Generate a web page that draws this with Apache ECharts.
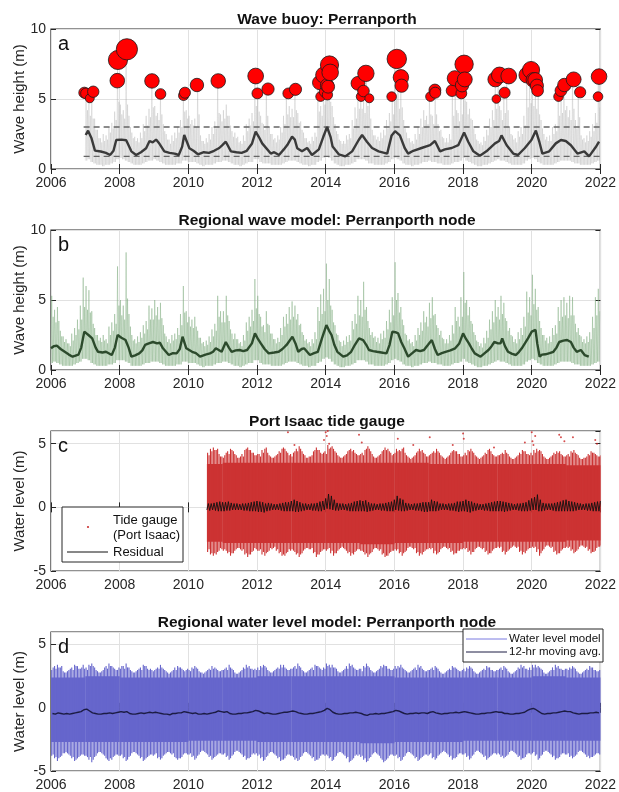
<!DOCTYPE html>
<html><head><meta charset="utf-8">
<script src="https://cdn.jsdelivr.net/npm/echarts/dist/echarts.min.js"></script>
<style>html,body{margin:0;padding:0;background:#fff}#c{width:619px;height:792px}</style>
</head><body><div id="c"></div>
<script>
// ---------------- DATA ----------------
const xTicks = [2006, 2008, 2010, 2012, 2014, 2016, 2018, 2020, 2022];
const panelTitles = ['Wave buoy: Perranporth', 'Regional wave model: Perranporth node', 'Port Isaac tide gauge', 'Regional water level model: Perranporth node'];
const panelLetters = ['a', 'b', 'c', 'd'];
const yNames = ['Wave height (m)', 'Wave height (m)', 'Water level (m)', 'Water level (m)'];

// Panel a: buoy (monthly envelope, Jan 2007 - Dec 2021; two peaks per month)
const buoyStart = 2007.0;
const buoyMax = [
5.5,5.1,5.5,3.6,2.8,2.2,2.5,2.4,3.0,3.3,4.1,7.8,
4.6,4.2,8.6,3.8,2.6,2.3,2.2,2.6,3.2,3.8,4.3,6.3,
4.5,4.0,5.4,3.2,2.5,2.1,2.4,2.6,3.0,3.5,5.5,4.2,
3.8,3.5,3.6,6.0,2.4,2.0,2.2,2.5,3.0,3.4,6.3,3.9,
4.2,4.6,3.8,2.7,2.6,2.3,2.0,2.4,3.2,3.6,4.0,6.6,
5.4,3.8,3.2,5.7,3.0,2.5,2.2,2.4,3.0,3.8,5.4,4.5,
4.3,5.7,4.0,3.4,2.6,2.2,2.0,2.3,2.6,6.2,4.5,6.7,
7.5,6.9,4.5,3.2,2.5,2.0,2.0,2.4,2.5,3.5,4.4,6.1,
5.6,5.2,6.8,5.0,2.8,2.4,2.3,2.6,2.8,3.5,4.0,5.2,
7.9,5.8,6.6,3.5,2.6,2.2,2.0,2.5,3.0,3.6,4.2,3.8,
5.2,3.8,5.6,3.2,2.8,2.2,2.2,2.5,5.6,6.5,4.0,5.4,
7.5,4.8,4.3,3.5,2.5,2.0,1.9,2.3,2.8,3.6,4.2,6.4,
6.7,4.2,5.5,6.6,3.0,2.4,2.2,2.7,3.0,3.8,6.7,7.1,
6.4,6.0,5.6,3.5,2.5,2.3,2.4,3.0,3.2,5.2,5.6,6.0,
4.5,4.2,6.4,3.5,5.5,2.4,2.2,2.4,2.7,3.2,4.0,6.6];
const buoyMax2 = [
4.2,3.8,3.6,2.8,2.2,1.9,2.0,2.1,2.6,2.9,3.5,4.8,
3.9,3.6,4.6,3.0,2.2,2.0,1.9,2.2,2.7,3.1,3.7,4.4,
3.8,3.5,3.9,2.7,2.1,1.8,2.0,2.2,2.6,3.0,4.1,3.6,
3.2,3.1,3.0,3.9,2.0,1.8,1.9,2.1,2.5,2.9,4.0,3.4,
3.6,3.8,3.1,2.3,2.2,1.9,1.8,2.0,2.7,3.1,3.4,4.5,
4.1,3.3,2.8,3.8,2.5,2.1,1.9,2.1,2.6,3.2,3.9,3.7,
3.7,4.2,3.3,2.8,2.2,1.9,1.8,2.0,2.3,4.1,3.8,4.6,
5.2,4.8,3.7,2.7,2.1,1.8,1.8,2.1,2.2,2.9,3.6,4.3,
4.3,4.0,4.5,3.6,2.4,2.1,2.0,2.2,2.4,2.9,3.4,3.9,
5.1,4.3,4.4,2.9,2.2,1.9,1.8,2.1,2.5,3.0,3.5,3.2,
3.9,3.2,3.9,2.7,2.3,1.9,1.9,2.1,3.8,4.2,3.4,3.9,
4.9,3.9,3.6,2.9,2.1,1.8,1.7,2.0,2.4,3.0,3.5,4.3,
4.5,3.5,4.0,4.2,2.5,2.1,1.9,2.3,2.5,3.1,4.4,4.7,
4.5,4.3,3.9,2.9,2.1,2.0,2.0,2.5,2.7,3.8,4.0,4.2,
3.7,3.5,4.3,2.9,3.7,2.1,1.9,2.0,2.3,2.7,3.3,4.4];
const buoyMin = [
0.6,0.7,0.5,0.4,0.3,0.3,0.2,0.3,0.3,0.4,0.5,0.7,
0.8,0.7,0.6,0.5,0.4,0.3,0.3,0.3,0.4,0.5,0.6,0.6,
0.7,0.6,0.5,0.4,0.3,0.3,0.3,0.3,0.4,0.4,0.6,0.6,
0.5,0.5,0.5,0.4,0.3,0.2,0.3,0.3,0.3,0.4,0.5,0.5,
0.6,0.6,0.5,0.4,0.3,0.3,0.2,0.3,0.4,0.5,0.5,0.7,
0.7,0.5,0.4,0.4,0.4,0.3,0.3,0.3,0.3,0.4,0.5,0.6,
0.6,0.6,0.5,0.4,0.3,0.3,0.2,0.3,0.3,0.5,0.6,0.8,
0.9,0.8,0.6,0.4,0.3,0.2,0.2,0.3,0.3,0.4,0.5,0.7,
0.7,0.7,0.6,0.4,0.4,0.3,0.3,0.3,0.3,0.4,0.5,0.7,
0.8,0.7,0.6,0.4,0.3,0.3,0.2,0.3,0.3,0.4,0.5,0.5,
0.6,0.5,0.5,0.4,0.4,0.3,0.3,0.3,0.4,0.5,0.5,0.6,
0.8,0.6,0.5,0.4,0.3,0.2,0.2,0.3,0.3,0.4,0.5,0.6,
0.7,0.6,0.6,0.5,0.4,0.3,0.3,0.3,0.3,0.4,0.6,0.7,
0.8,0.7,0.5,0.4,0.3,0.3,0.3,0.3,0.4,0.5,0.6,0.6,
0.6,0.6,0.5,0.4,0.4,0.3,0.3,0.3,0.3,0.4,0.5,0.6];
const buoyMaTime = [2007.01,2007.08,2007.18,2007.28,2007.45,2007.6,2007.72,2007.82,2007.9,2008.05,2008.19,2008.34,2008.48,2008.62,2008.77,2008.87,2008.96,2009.06,2009.16,2009.3,2009.45,2009.6,2009.72,2009.82,2009.88,2010.03,2010.15,2010.28,2010.45,2010.6,2010.75,2010.9,2010.99,2011.09,2011.24,2011.4,2011.55,2011.7,2011.85,2011.96,2012.05,2012.15,2012.4,2012.5,2012.64,2012.78,2012.88,2013.02,2013.1,2013.17,2013.31,2013.46,2013.6,2013.8,2013.93,2014.04,2014.14,2014.2,2014.38,2014.57,2014.77,2014.96,2015.06,2015.2,2015.35,2015.54,2015.79,2015.92,2016.02,2016.16,2016.3,2016.4,2016.55,2016.79,2017.04,2017.18,2017.33,2017.47,2017.67,2017.86,2018.03,2018.15,2018.3,2018.49,2018.68,2018.93,2019.05,2019.12,2019.27,2019.46,2019.6,2019.8,2019.99,2020.12,2020.22,2020.31,2020.51,2020.7,2020.85,2020.99,2021.14,2021.33,2021.53,2021.67,2021.86,2021.96];
const buoyMaValue = [2.43,2.74,2.19,1.31,1.25,1.15,1.0,1.3,2.07,2.1,2.05,1.26,1.0,1.2,1.48,2.0,1.9,2.1,1.8,1.26,1.15,1.1,1.0,1.6,2.43,1.48,1.3,1.05,1.2,1.15,1.3,1.5,1.71,1.95,1.26,1.2,1.15,1.3,1.8,2.67,2.3,1.83,1.1,1.2,1.0,1.4,1.71,2.31,2.1,1.48,1.26,1.5,1.0,1.4,2.3,3.0,2.3,1.6,1.05,0.9,1.26,2.07,2.43,1.95,1.5,1.26,1.1,2.4,2.7,2.4,1.5,1.1,1.3,1.5,1.7,2.0,1.26,1.4,1.5,1.7,2.6,1.95,1.26,0.95,1.26,1.83,2.0,2.4,1.7,1.1,1.0,1.5,2.07,2.74,1.95,1.1,1.26,1.83,2.07,2.0,1.7,1.1,1.26,0.9,1.55,1.95];
const thresholds = [3.0, 0.9];
const thresholdSpan = [2006.95, 2022];
const stormTime = [2006.97,2007.02,2007.13,2007.23,2007.93,2007.95,2008.21,2008.94,2009.19,2009.86,2009.9,2010.25,2010.87,2011.96,2012.01,2012.32,2012.91,2013.12,2013.82,2013.85,2013.94,2013.98,2014.04,2014.05,2014.07,2014.11,2014.13,2014.94,2015.03,2015.1,2015.17,2015.27,2015.92,2016.07,2016.19,2016.21,2017.05,2017.18,2017.19,2017.68,2017.76,2017.95,2017.97,2018.03,2018.05,2018.94,2018.97,2019.06,2019.21,2019.33,2019.86,2019.98,2020.05,2020.1,2020.15,2020.17,2020.78,2020.85,2020.95,2021.22,2021.41,2021.93,2021.96];
const stormHeight = [5.45,5.4,5.05,5.52,6.31,7.79,8.55,6.29,5.36,5.25,5.45,6.0,6.29,6.64,5.4,5.71,5.4,5.69,6.17,5.17,6.71,5.52,5.98,5.3,5.88,7.43,6.9,6.12,5.17,5.57,6.83,5.05,5.17,7.86,6.55,5.95,5.17,5.64,5.45,5.6,6.48,5.4,5.98,7.48,6.4,6.4,5.0,6.71,5.45,6.64,6.71,7.07,6.36,6.36,5.95,5.6,5.17,5.6,6.0,6.4,5.48,5.17,6.6];

// Panel b: wave model (monthly envelope, Jan 2006 - Dec 2021; two peaks per month)
const waveStart = 2006.0;
const waveMax = [
5.3,4.3,4.5,2.8,2.4,2.2,1.9,2.6,3.0,3.6,4.6,6.6,
6.0,5.7,4.2,3.0,2.5,2.3,2.5,2.2,3.1,3.4,4.0,7.4,
5.0,4.6,8.4,4.0,2.5,2.2,2.4,2.7,3.2,3.5,4.6,4.4,
5.0,4.5,4.8,3.2,2.4,2.2,2.5,2.6,3.0,4.0,6.0,4.2,
3.8,3.6,3.8,2.8,2.3,2.0,2.1,2.4,2.9,3.3,5.3,4.2,
4.2,5.3,3.5,2.6,2.6,2.2,2.0,2.5,3.4,3.8,4.3,6.5,
5.3,3.8,3.2,4.2,3.2,2.6,2.2,2.3,3.0,3.8,4.0,4.5,
4.9,4.6,4.0,3.3,2.5,2.2,2.0,2.2,2.7,4.5,5.4,5.8,
7.6,6.5,4.3,3.2,2.5,2.0,2.1,2.4,2.5,3.5,4.0,5.3,
5.0,6.3,4.5,3.0,2.7,2.4,2.3,2.6,2.8,3.5,4.3,5.2,
7.7,5.5,4.5,3.2,2.5,2.2,2.0,2.5,3.0,3.4,4.2,3.8,
4.8,5.2,4.0,3.0,2.8,2.2,2.2,2.5,3.2,4.5,3.8,5.2,
7.0,5.0,4.5,3.3,2.5,2.0,1.9,2.3,2.8,3.6,4.2,5.0,
4.5,5.3,4.8,3.5,3.0,2.4,2.2,2.7,3.0,3.8,5.6,5.2,
6.8,5.8,4.5,3.0,2.5,2.3,2.4,3.0,3.2,4.5,5.0,5.2,
4.8,5.3,5.2,3.3,3.0,2.4,2.2,2.4,2.7,3.8,5.2,5.8];
const waveMax2 = [
3.8,3.4,3.5,2.4,2.0,1.9,1.7,2.1,2.5,2.9,3.6,4.5,
4.3,4.1,3.3,2.5,2.1,2.0,2.1,1.9,2.5,2.8,3.3,4.6,
3.9,3.6,5.1,3.1,2.1,1.9,2.0,2.3,2.6,2.9,3.6,3.6,
3.9,3.6,3.7,2.6,2.0,1.9,2.1,2.2,2.5,3.2,4.1,3.4,
3.1,3.0,3.1,2.3,1.9,1.7,1.8,2.0,2.4,2.8,3.8,3.4,
3.4,3.9,2.9,2.2,2.2,1.9,1.7,2.1,2.8,3.1,3.5,4.4,
4.0,3.1,2.7,3.3,2.6,2.2,1.9,2.0,2.5,3.1,3.3,3.6,
3.8,3.6,3.2,2.7,2.1,1.9,1.7,1.9,2.2,3.5,4.0,4.2,
5.0,4.6,3.4,2.6,2.1,1.7,1.8,2.0,2.1,2.9,3.3,3.9,
3.8,4.3,3.5,2.5,2.3,2.0,1.9,2.2,2.3,2.9,3.4,3.9,
5.0,4.1,3.6,2.6,2.1,1.9,1.7,2.1,2.5,2.8,3.4,3.1,
3.7,3.9,3.2,2.5,2.3,1.9,1.9,2.1,2.6,3.5,3.1,3.8,
4.8,3.9,3.5,2.7,2.1,1.7,1.6,1.9,2.3,2.9,3.4,3.8,
3.6,4.0,3.7,2.8,2.5,2.0,1.9,2.2,2.5,3.1,4.1,3.9,
4.7,4.3,3.5,2.5,2.1,1.9,2.0,2.5,2.6,3.5,3.8,3.9,
3.7,3.9,3.9,2.7,2.5,2.0,1.9,2.0,2.2,3.0,3.9,4.2];
const waveMin = [
0.5,0.6,0.5,0.4,0.3,0.3,0.3,0.3,0.4,0.5,0.6,0.8,
0.8,0.7,0.5,0.4,0.3,0.3,0.3,0.3,0.4,0.4,0.5,0.7,
0.7,0.7,0.6,0.5,0.3,0.3,0.3,0.3,0.4,0.5,0.5,0.6,
0.6,0.6,0.5,0.4,0.3,0.3,0.3,0.3,0.4,0.4,0.6,0.6,
0.5,0.5,0.5,0.4,0.3,0.2,0.3,0.3,0.3,0.4,0.5,0.5,
0.6,0.6,0.5,0.4,0.3,0.3,0.2,0.3,0.4,0.5,0.5,0.7,
0.7,0.5,0.4,0.4,0.4,0.3,0.3,0.3,0.3,0.4,0.5,0.6,
0.6,0.6,0.5,0.4,0.3,0.3,0.2,0.3,0.3,0.5,0.6,0.8,
0.9,0.8,0.6,0.4,0.3,0.2,0.2,0.3,0.3,0.4,0.5,0.7,
0.7,0.7,0.6,0.4,0.4,0.3,0.3,0.3,0.3,0.4,0.5,0.7,
0.8,0.7,0.6,0.4,0.3,0.3,0.2,0.3,0.3,0.4,0.5,0.5,
0.6,0.5,0.5,0.4,0.4,0.3,0.3,0.3,0.4,0.5,0.5,0.6,
0.8,0.6,0.5,0.4,0.3,0.2,0.2,0.3,0.3,0.4,0.5,0.6,
0.7,0.6,0.6,0.5,0.4,0.3,0.3,0.3,0.3,0.4,0.6,0.7,
0.8,0.7,0.5,0.4,0.3,0.3,0.3,0.3,0.4,0.5,0.6,0.6,
0.6,0.6,0.5,0.4,0.4,0.3,0.3,0.3,0.3,0.4,0.5,0.6];
const waveMaTime = [2006.0,2006.08,2006.17,2006.28,2006.4,2006.52,2006.63,2006.8,2006.88,2006.97,2007.09,2007.2,2007.3,2007.37,2007.5,2007.6,2007.77,2007.86,2007.94,2008.05,2008.17,2008.26,2008.34,2008.45,2008.57,2008.66,2008.74,2008.85,2008.97,2009.09,2009.17,2009.26,2009.43,2009.55,2009.66,2009.75,2009.83,2009.94,2010.11,2010.22,2010.34,2010.5,2010.63,2010.72,2010.8,2010.97,2011.09,2011.18,2011.26,2011.38,2011.49,2011.6,2011.71,2011.85,2011.94,2012.03,2012.11,2012.22,2012.34,2012.5,2012.63,2012.74,2012.86,2013.03,2013.12,2013.2,2013.3,2013.37,2013.54,2013.66,2013.77,2013.89,2014.02,2014.1,2014.17,2014.25,2014.34,2014.51,2014.62,2014.74,2014.85,2014.97,2015.09,2015.18,2015.26,2015.38,2015.49,2015.62,2015.77,2015.86,2015.94,2016.03,2016.11,2016.2,2016.29,2016.4,2016.52,2016.63,2016.75,2016.86,2016.98,2017.09,2017.18,2017.26,2017.38,2017.49,2017.63,2017.77,2017.89,2018.0,2018.09,2018.17,2018.26,2018.34,2018.51,2018.63,2018.74,2018.83,2018.91,2019.02,2019.09,2019.14,2019.22,2019.31,2019.43,2019.54,2019.63,2019.71,2019.8,2019.89,2020.0,2020.11,2020.16,2020.23,2020.3,2020.4,2020.52,2020.63,2020.72,2020.8,2020.92,2021.03,2021.14,2021.22,2021.31,2021.43,2021.54,2021.66];
const waveMaValue = [1.55,1.7,1.74,1.5,1.3,1.1,0.95,1.1,1.6,2.74,2.5,2.26,1.6,1.3,1.25,1.3,1.07,1.6,2.5,2.3,2.14,1.6,0.95,1.05,1.19,1.4,1.79,1.9,2.0,1.9,1.95,1.55,1.07,1.2,1.19,1.5,2.38,1.55,1.3,1.2,0.95,1.1,1.19,1.3,1.55,1.3,2.0,1.6,1.3,1.4,1.43,1.35,1.43,1.9,2.62,2.2,1.9,1.5,1.19,1.25,1.3,1.5,1.79,2.38,1.9,1.3,1.5,1.55,1.07,1.2,1.3,2.26,3.21,2.8,2.5,1.8,1.3,0.95,1.05,1.3,1.8,2.26,2.14,1.8,1.43,1.35,1.3,1.25,1.19,1.8,2.74,2.7,2.62,2.0,1.55,0.95,1.2,1.43,1.35,1.43,1.8,2.14,1.5,1.07,1.2,1.3,1.4,1.55,1.9,2.62,2.2,1.9,1.5,1.19,0.95,1.2,1.43,1.7,2.0,1.9,1.9,2.26,1.7,1.3,1.15,1.07,1.3,1.55,1.9,2.26,2.74,2.86,1.9,0.95,1.1,1.12,1.2,1.3,1.6,2.0,2.1,2.14,2.0,1.6,1.3,1.43,1.07,0.95];

// Panel c: tide gauge (two spring-tide envelopes per month from mid-2010) and residual
const tideStart = 2010.54;
const tideHigh = [
4.3,4.6,4.7,4.5,4.2,4.0,
4.1,4.4,4.6,4.4,4.1,3.9,4.2,4.5,4.7,4.5,4.3,4.1,
4.2,4.5,4.6,4.3,4.0,3.9,4.1,4.4,4.6,4.6,4.3,4.2,
4.3,4.6,4.8,4.4,4.1,3.9,4.0,4.4,4.7,4.5,4.2,4.4,
4.9,4.7,4.6,4.3,4.0,3.9,4.1,4.4,4.6,4.5,4.2,4.1,
4.3,4.5,4.8,4.4,4.0,3.9,4.1,4.4,4.7,4.6,4.3,4.2,
4.6,4.5,4.6,4.3,4.0,3.8,4.0,4.3,4.6,4.5,4.2,4.0,
4.2,4.4,4.6,4.3,4.0,3.8,4.0,4.3,4.5,4.4,4.2,4.0,
4.3,4.5,4.6,4.3,4.0,3.8,4.0,4.3,4.5,4.4,4.1,4.0,
4.1,4.3,4.5,4.2,3.9,3.8,4.0,4.3,4.5,4.4,4.2,4.3,
4.5,4.6,4.5,4.2,3.9,3.8,4.0,4.3,4.4,4.4,4.1,4.0,
4.2,4.4,4.5,4.2,3.9,3.8,3.9,4.2,4.4,4.3,4.1,4.0];
const tideLow = [
-3.5,-3.7,-3.8,-3.7,-3.4,-3.3,
-3.3,-3.6,-3.8,-3.6,-3.3,-3.2,-3.4,-3.7,-3.9,-3.7,-3.4,-3.3,
-3.4,-3.7,-3.8,-3.5,-3.2,-3.2,-3.4,-3.6,-3.8,-3.8,-3.5,-3.4,
-3.4,-3.7,-3.9,-3.6,-3.3,-3.2,-3.3,-3.6,-3.9,-3.7,-3.4,-3.3,
-3.3,-3.6,-3.8,-3.6,-3.3,-3.1,-3.3,-3.6,-3.8,-3.7,-3.4,-3.3,
-3.4,-3.7,-3.9,-3.6,-3.3,-3.2,-3.4,-3.7,-3.9,-3.8,-3.5,-3.4,
-3.4,-3.6,-3.8,-3.5,-3.2,-3.1,-3.3,-3.6,-3.8,-3.7,-3.4,-3.3,
-3.3,-3.6,-3.7,-3.5,-3.2,-3.1,-3.3,-3.5,-3.7,-3.6,-3.4,-3.3,
-3.3,-3.5,-3.7,-3.5,-3.2,-3.1,-3.3,-3.5,-3.7,-3.6,-3.3,-3.2,
-3.2,-3.5,-3.7,-3.4,-3.2,-3.0,-3.2,-3.5,-3.7,-3.6,-3.3,-3.2,
-3.2,-3.5,-3.8,-3.4,-3.1,-3.0,-3.2,-3.5,-3.7,-3.6,-3.3,-3.2,
-3.2,-3.4,-3.6,-3.4,-3.1,-3.0,-3.2,-3.4,-3.6,-3.5,-3.2,-3.1];
const tideHigh2 = [
4.1,4.4,4.5,4.6,4.0,3.9,
4.3,4.2,4.5,4.2,3.9,4.0,4.0,4.6,4.5,4.3,4.1,4.2,
4.0,4.3,4.7,4.1,3.9,4.0,4.2,4.3,4.7,4.4,4.1,4.0,
4.4,4.4,4.6,4.2,3.9,4.0,4.1,4.5,4.5,4.3,4.3,4.2,
4.6,4.8,4.4,4.1,3.9,4.0,4.2,4.5,4.4,4.3,4.1,4.2,
4.1,4.6,4.6,4.2,3.9,4.0,4.2,4.5,4.5,4.4,4.1,4.3,
4.4,4.4,4.7,4.1,3.9,3.9,4.1,4.4,4.4,4.3,4.0,4.1,
4.3,4.3,4.4,4.1,3.9,3.9,4.1,4.4,4.4,4.2,4.0,4.1,
4.1,4.4,4.4,4.1,3.9,3.9,4.1,4.2,4.6,4.2,4.0,4.1,
4.2,4.2,4.3,4.0,3.8,3.9,4.1,4.2,4.4,4.2,4.1,4.1,
4.3,4.4,4.4,4.0,3.8,3.9,4.1,4.2,4.3,4.2,4.0,4.1,
4.0,4.3,4.3,4.1,3.8,3.9,4.0,4.1,4.3,4.2,4.0,4.1];
const tideLow2 = [
-3.3,-3.6,-3.6,-3.5,-3.2,-3.4,
-3.4,-3.5,-3.6,-3.4,-3.2,-3.3,-3.3,-3.6,-3.7,-3.5,-3.2,-3.4,
-3.3,-3.5,-3.6,-3.4,-3.3,-3.1,-3.3,-3.5,-3.7,-3.6,-3.3,-3.3,
-3.5,-3.6,-3.7,-3.4,-3.2,-3.3,-3.2,-3.5,-3.7,-3.5,-3.3,-3.4,
-3.2,-3.4,-3.6,-3.4,-3.2,-3.2,-3.4,-3.5,-3.6,-3.5,-3.3,-3.4,
-3.5,-3.6,-3.7,-3.5,-3.2,-3.3,-3.3,-3.6,-3.8,-3.6,-3.4,-3.3,
-3.3,-3.5,-3.6,-3.4,-3.1,-3.2,-3.2,-3.5,-3.6,-3.5,-3.3,-3.2,
-3.2,-3.4,-3.6,-3.3,-3.1,-3.2,-3.2,-3.4,-3.6,-3.4,-3.3,-3.2,
-3.2,-3.4,-3.5,-3.3,-3.1,-3.2,-3.2,-3.4,-3.6,-3.4,-3.2,-3.1,
-3.1,-3.4,-3.5,-3.3,-3.1,-3.1,-3.1,-3.4,-3.5,-3.4,-3.2,-3.1,
-3.1,-3.3,-3.6,-3.3,-3.0,-3.1,-3.1,-3.4,-3.6,-3.4,-3.2,-3.1,
-3.1,-3.3,-3.5,-3.3,-3.0,-3.1,-3.1,-3.3,-3.5,-3.4,-3.1,-3.0];
const tideCoreStart = [2010.54,2011,2012,2013,2014,2015,2016,2017,2018,2019,2020,2021];
const tideCoreHigh = [3.4,3.5,3.5,3.5,3.5,3.5,3.5,3.4,3.4,3.4,3.4,3.3];
const tideCoreLow = [-2.7,-2.8,-2.8,-2.8,-2.8,-2.9,-2.8,-2.8,-2.7,-2.7,-2.7,-2.6];
const residualHigh = [
0.3,0.3,0.35,0.4,0.45,0.4,
0.4,0.45,0.35,0.3,0.3,0.25,0.3,0.3,0.35,0.4,0.45,0.5,
0.45,0.4,0.3,0.35,0.3,0.25,0.25,0.3,0.35,0.4,0.4,0.5,
0.6,0.5,0.4,0.3,0.3,0.25,0.3,0.3,0.35,0.45,0.5,0.7,
1.05,0.9,0.6,0.35,0.3,0.3,0.25,0.3,0.35,0.45,0.5,0.55,
0.5,0.55,0.4,0.3,0.3,0.25,0.3,0.3,0.35,0.4,0.45,0.6,
0.9,0.7,0.6,0.35,0.3,0.25,0.3,0.3,0.35,0.4,0.4,0.4,
0.6,0.5,0.45,0.3,0.3,0.25,0.3,0.3,0.35,0.45,0.45,0.5,
0.6,0.5,0.45,0.35,0.3,0.25,0.25,0.3,0.35,0.4,0.45,0.5,
0.5,0.45,0.4,0.35,0.3,0.25,0.3,0.3,0.35,0.4,0.55,0.7,
0.8,1.0,0.6,0.35,0.3,0.3,0.3,0.35,0.4,0.45,0.55,0.6,
0.5,0.45,0.4,0.35,0.3,0.25,0.3,0.3,0.35,0.4,0.45,0.5];
const residualLow = [
-0.2,-0.25,-0.2,-0.25,-0.3,-0.3,
-0.3,-0.25,-0.25,-0.2,-0.2,-0.2,-0.2,-0.25,-0.25,-0.3,-0.3,-0.3,
-0.35,-0.35,-0.4,-0.3,-0.25,-0.2,-0.2,-0.2,-0.25,-0.3,-0.3,-0.3,
-0.3,-0.35,-0.35,-0.3,-0.25,-0.2,-0.2,-0.25,-0.25,-0.3,-0.3,-0.2,
-0.1,-0.15,-0.2,-0.25,-0.25,-0.2,-0.2,-0.25,-0.3,-0.3,-0.3,-0.3,
-0.3,-0.3,-0.35,-0.3,-0.25,-0.2,-0.2,-0.25,-0.25,-0.3,-0.3,-0.3,
-0.2,-0.25,-0.3,-0.3,-0.25,-0.2,-0.2,-0.25,-0.25,-0.3,-0.35,-0.35,
-0.3,-0.3,-0.3,-0.25,-0.2,-0.2,-0.2,-0.25,-0.25,-0.3,-0.35,-0.3,
-0.3,-0.35,-0.4,-0.3,-0.25,-0.2,-0.2,-0.25,-0.25,-0.3,-0.3,-0.3,
-0.3,-0.3,-0.35,-0.3,-0.25,-0.2,-0.2,-0.25,-0.3,-0.3,-0.3,-0.25,
-0.2,-0.2,-0.3,-0.3,-0.25,-0.2,-0.2,-0.25,-0.3,-0.3,-0.3,-0.3,
-0.3,-0.3,-0.3,-0.25,-0.2,-0.2,-0.2,-0.25,-0.25,-0.3,-0.3,-0.3];
const tideOutlierTime = [2012.9,2013.09,2013.95,2014.0,2014.03,2014.06,2014.1,2014.97,2015.05,2016.1,2016.55,2017.03,2017.7,2018.0,2018.02,2018.9,2019.8,2020.0,2020.02,2020.05,2020.1,2020.8,2020.85,2020.95,2021.2,2021.85,2021.9];
const tideOutlierLevel = [5.9,4.9,5.3,5.9,5.6,6.0,5.0,5.7,5.1,5.4,4.9,5.5,4.9,5.8,5.4,4.7,5.1,5.9,5.2,4.9,5.6,5.7,5.5,5.2,5.5,5.3,5.0];

// Panel d: water level model (two spring-tide envelopes per month, Jan 2006 - Dec 2021)
const modelStart = 2006.0;
const modelHigh = [
3.0,3.3,3.4,3.2,2.9,2.8,3.0,3.2,3.4,3.3,3.1,3.4,
3.2,3.4,3.5,3.2,2.9,2.8,3.0,3.3,3.5,3.3,3.1,3.0,
3.1,3.3,3.5,3.2,2.9,2.8,3.0,3.2,3.4,3.3,3.0,3.0,
3.0,3.2,3.4,3.1,2.9,2.7,2.9,3.2,3.3,3.2,3.0,3.0,
3.0,3.2,3.3,3.1,2.8,2.7,2.9,3.1,3.3,3.2,3.0,2.9,
3.0,3.2,3.4,3.1,2.8,2.7,2.9,3.2,3.4,3.3,3.1,3.1,
3.2,3.3,3.4,3.2,2.9,2.8,3.0,3.2,3.4,3.4,3.1,3.0,
3.1,3.3,3.5,3.2,2.9,2.8,3.0,3.2,3.4,3.3,3.1,3.2,
3.5,3.4,3.4,3.2,2.9,2.8,3.0,3.3,3.5,3.4,3.1,3.0,
3.1,3.3,3.5,3.2,2.9,2.8,3.0,3.3,3.4,3.3,3.1,3.0,
3.3,3.3,3.4,3.1,2.9,2.8,3.0,3.2,3.4,3.3,3.0,2.9,
3.0,3.2,3.3,3.1,2.8,2.7,2.9,3.1,3.3,3.2,3.0,2.9,
3.1,3.2,3.3,3.1,2.8,2.7,2.9,3.1,3.3,3.2,3.0,2.9,
3.0,3.2,3.3,3.1,2.8,2.7,2.9,3.2,3.4,3.3,3.1,3.2,
3.4,3.4,3.3,3.1,2.8,2.7,2.9,3.2,3.4,3.3,3.1,3.0,
3.1,3.2,3.3,3.1,2.8,2.7,2.9,3.1,3.3,3.2,3.0,2.9];
const modelLow = [
-3.8,-4.0,-4.2,-3.9,-3.6,-3.5,-3.7,-4.0,-4.2,-4.0,-3.8,-3.7,
-3.8,-4.1,-4.3,-3.9,-3.6,-3.5,-3.7,-4.0,-4.2,-4.1,-3.8,-3.7,
-3.8,-4.0,-4.2,-3.9,-3.6,-3.5,-3.7,-4.0,-4.2,-4.0,-3.8,-3.7,
-3.7,-4.0,-4.1,-3.8,-3.6,-3.5,-3.7,-3.9,-4.1,-4.0,-3.7,-3.6,
-3.7,-3.9,-4.1,-3.8,-3.5,-3.4,-3.6,-3.9,-4.1,-3.9,-3.7,-3.6,
-3.7,-3.9,-4.1,-3.8,-3.5,-3.4,-3.6,-3.9,-4.1,-4.0,-3.7,-3.7,
-3.8,-4.0,-4.2,-3.9,-3.6,-3.5,-3.7,-4.0,-4.2,-4.1,-3.8,-3.7,
-3.8,-4.1,-4.2,-3.9,-3.6,-3.5,-3.7,-4.0,-4.2,-4.1,-3.8,-3.7,
-3.7,-4.0,-4.2,-3.9,-3.6,-3.5,-3.7,-4.0,-4.3,-4.1,-3.8,-3.8,
-3.9,-4.1,-4.3,-4.0,-3.7,-3.5,-3.7,-4.0,-4.3,-4.1,-3.8,-3.7,
-3.8,-4.0,-4.2,-3.9,-3.6,-3.5,-3.7,-4.0,-4.2,-4.0,-3.8,-3.7,
-3.7,-4.0,-4.1,-3.8,-3.6,-3.4,-3.6,-3.9,-4.1,-4.0,-3.7,-3.6,
-3.7,-3.9,-4.1,-3.8,-3.5,-3.4,-3.6,-3.9,-4.1,-3.9,-3.7,-3.6,
-3.6,-3.9,-4.0,-3.8,-3.5,-3.4,-3.6,-3.9,-4.1,-4.0,-3.7,-3.6,
-3.6,-3.8,-4.1,-3.8,-3.5,-3.4,-3.6,-3.9,-4.1,-4.0,-3.7,-3.6,
-3.7,-3.9,-4.0,-3.8,-3.5,-3.4,-3.6,-3.9,-4.0,-3.9,-3.7,-3.6];
const modelHigh2 = [
3.2,3.1,3.2,3.3,2.8,2.9,3.1,3.0,3.3,3.1,3.2,3.1,
3.0,3.3,3.3,3.0,2.8,2.9,3.2,3.1,3.3,3.2,3.0,3.2,
3.3,3.1,3.2,3.0,2.8,2.9,3.1,3.0,3.3,3.1,3.1,2.9,
3.1,3.1,3.2,3.0,2.8,2.8,3.0,3.0,3.2,3.1,2.9,3.1,
2.9,3.1,3.2,2.9,2.8,2.8,3.0,3.0,3.1,3.1,2.9,3.0,
3.1,3.0,3.2,3.0,2.7,2.8,3.0,3.1,3.2,3.1,3.0,3.0,
3.0,3.2,3.3,3.0,2.8,2.9,3.1,3.1,3.2,3.2,3.0,3.1,
3.2,3.1,3.3,3.0,2.8,2.9,3.1,3.0,3.3,3.2,3.0,3.1,
3.3,3.2,3.2,3.1,2.8,2.9,3.1,3.1,3.3,3.2,3.0,3.1,
2.9,3.2,3.3,3.0,2.8,2.9,3.1,3.2,3.3,3.1,3.0,3.1,
3.1,3.2,3.2,3.0,2.8,2.9,3.1,3.0,3.2,3.1,2.9,3.0,
3.1,3.0,3.2,2.9,2.7,2.8,3.0,3.0,3.2,3.1,2.9,3.0,
2.9,3.1,3.2,2.9,2.7,2.8,3.0,3.0,3.2,3.0,2.9,3.0,
3.1,3.0,3.2,2.9,2.7,2.8,3.0,3.1,3.2,3.1,3.0,3.0,
3.2,3.2,3.2,3.0,2.7,2.8,3.0,3.0,3.2,3.1,3.0,3.1,
3.0,3.1,3.2,2.9,2.7,2.8,3.0,3.0,3.2,3.0,2.9,3.0];
const modelLow2 = [
-3.7,-3.9,-4.0,-3.8,-3.6,-3.6,-3.8,-3.9,-4.1,-3.9,-3.7,-3.8,
-3.9,-3.9,-4.1,-3.8,-3.5,-3.6,-3.8,-4.1,-4.0,-3.9,-3.7,-3.8,
-3.7,-3.9,-4.1,-3.8,-3.5,-3.6,-3.8,-3.9,-4.1,-3.9,-3.7,-3.8,
-3.6,-3.9,-4.0,-3.7,-3.5,-3.6,-3.6,-4.0,-4.0,-3.9,-3.6,-3.7,
-3.6,-3.8,-4.0,-3.7,-3.4,-3.5,-3.7,-3.8,-4.0,-3.8,-3.6,-3.7,
-3.6,-3.8,-4.0,-3.7,-3.4,-3.5,-3.7,-3.8,-4.0,-3.9,-3.6,-3.6,
-3.7,-3.9,-4.1,-3.8,-3.5,-3.6,-3.8,-3.9,-4.1,-4.0,-3.7,-3.8,
-3.9,-4.0,-4.1,-3.8,-3.5,-3.6,-3.8,-3.9,-4.1,-4.0,-3.7,-3.8,
-3.8,-3.9,-4.1,-3.8,-3.5,-3.6,-3.8,-3.9,-4.2,-4.0,-3.7,-3.7,
-3.8,-4.0,-4.2,-3.9,-3.6,-3.6,-3.8,-4.1,-4.2,-4.0,-3.7,-3.8,
-3.7,-3.9,-4.1,-3.8,-3.5,-3.6,-3.8,-3.9,-4.1,-3.9,-3.7,-3.8,
-3.6,-3.9,-4.0,-3.7,-3.5,-3.5,-3.7,-3.8,-4.0,-3.9,-3.6,-3.7,
-3.6,-3.8,-4.0,-3.7,-3.4,-3.5,-3.7,-3.8,-4.0,-3.8,-3.6,-3.7,
-3.7,-3.8,-3.9,-3.7,-3.4,-3.5,-3.7,-3.8,-4.0,-3.9,-3.6,-3.7,
-3.5,-3.7,-4.0,-3.7,-3.4,-3.5,-3.7,-3.8,-4.0,-3.9,-3.6,-3.7,
-3.6,-3.8,-3.9,-3.7,-3.4,-3.5,-3.7,-3.8,-3.9,-3.8,-3.6,-3.7];
const modelCoreStart = [2006,2007,2008,2009,2010,2011,2012,2013,2014,2015,2016,2017,2018,2019,2020,2021];
const modelCoreHigh = [2.4,2.5,2.4,2.4,2.4,2.4,2.5,2.5,2.5,2.5,2.4,2.4,2.4,2.4,2.5,2.4];
const modelCoreLow = [-2.7,-2.7,-2.7,-2.7,-2.6,-2.6,-2.7,-2.7,-2.7,-2.8,-2.7,-2.7,-2.6,-2.6,-2.6,-2.6];
const modelMa = [
-0.45,-0.5,-0.4,-0.45,-0.5,-0.45,-0.5,-0.45,-0.4,-0.35,-0.3,-0.15,
-0.1,-0.25,-0.4,-0.45,-0.5,-0.5,-0.45,-0.45,-0.4,-0.45,-0.4,-0.35,
-0.3,-0.35,-0.3,-0.45,-0.5,-0.5,-0.45,-0.4,-0.45,-0.4,-0.35,-0.4,
-0.35,-0.4,-0.45,-0.5,-0.5,-0.55,-0.45,-0.45,-0.4,-0.4,-0.3,-0.35,
-0.4,-0.45,-0.4,-0.5,-0.5,-0.45,-0.5,-0.45,-0.4,-0.35,-0.25,-0.3,
-0.35,-0.3,-0.45,-0.5,-0.5,-0.45,-0.45,-0.4,-0.4,-0.35,-0.3,-0.2,
-0.25,-0.35,-0.45,-0.4,-0.45,-0.5,-0.5,-0.45,-0.4,-0.35,-0.35,-0.3,
-0.25,-0.3,-0.4,-0.45,-0.5,-0.5,-0.45,-0.45,-0.4,-0.35,-0.3,-0.2,
-0.05,-0.15,-0.35,-0.45,-0.5,-0.5,-0.45,-0.45,-0.4,-0.4,-0.35,-0.4,
-0.45,-0.55,-0.6,-0.5,-0.5,-0.45,-0.5,-0.45,-0.45,-0.4,-0.35,-0.3,
-0.2,-0.25,-0.35,-0.45,-0.5,-0.45,-0.45,-0.4,-0.45,-0.4,-0.4,-0.45,
-0.35,-0.3,-0.4,-0.45,-0.5,-0.45,-0.45,-0.4,-0.4,-0.35,-0.4,-0.35,
-0.3,-0.35,-0.4,-0.45,-0.5,-0.5,-0.45,-0.45,-0.4,-0.4,-0.35,-0.3,
-0.35,-0.35,-0.45,-0.45,-0.5,-0.5,-0.45,-0.45,-0.4,-0.35,-0.2,-0.1,
-0.05,-0.15,-0.3,-0.45,-0.5,-0.45,-0.45,-0.4,-0.4,-0.35,-0.3,-0.25,
-0.3,-0.3,-0.4,-0.45,-0.5,-0.45,-0.45,-0.45,-0.4,-0.4,-0.35,-0.4];

// ---------------- BUILD ----------------
const FONT = '"Liberation Sans", Arial, Helvetica, sans-serif';
const INK = '#262626';
const X0 = xTicks[0], X1 = xTicks[xTicks.length - 1], XSTEP = xTicks[1] - xTicks[0];
const gridTops = [29, 230, 431, 632];
const GL = 51, GW = 552, GH = 140;
const yRanges = [[0, 10], [0, 10], [-5, 6], [-5, 6]];

// two peaks per month: low, peak1, low, peak2
function zigzag2(start, lows, highs, highs2) {
  const out = [];
  for (let i = 0; i < lows.length; i++) {
    const t = start + i / 12;
    out.push([t, lows[i]]);
    out.push([t + 1 / 48, highs[i]]);
    out.push([t + 2 / 48, lows[i]]);
    out.push([t + 3 / 48, highs2[i]]);
  }
  return out;
}
function zigzag(start, lows, highs) {
  const out = [];
  for (let i = 0; i < lows.length; i++) {
    const t = start + i / 12;
    out.push([t, lows[i]]);
    out.push([t + 1 / 24, highs[i]]);
  }
  return out;
}
function pairs(ts, vs) { return ts.map((t, i) => [t, vs[i]]); }
function monthly(start, vs) { return vs.map((v, i) => [start + i / 12 + 1 / 24, v]); }
function spikes(start, lows, highs, lows2, highs2) {
  const out = [];
  lows.forEach((lo, i) => {
    out.push([start + i / 12 + 1 / 48, lo, highs[i]]);
    out.push([start + i / 12 + 3 / 48, lows2[i], highs2[i]]);
  });
  return out;
}
function cores(starts, lows, highs) {
  return starts.map((s, i) => [s, i + 1 < starts.length ? starts[i + 1] : X1, lows[i], highs[i]]);
}
function coreItem(color) {
  return function (params, api) {
    const p0 = api.coord([api.value(0), api.value(3)]);
    const p1 = api.coord([api.value(1), api.value(2)]);
    return { type: 'rect', shape: { x: p0[0], y: p0[1], width: p1[0] - p0[0], height: p1[1] - p0[1] }, style: { fill: color } };
  };
}
function spikeItem(color, w) {
  return function (params, api) {
    const top = api.coord([api.value(0), api.value(2)]);
    const bot = api.coord([api.value(0), api.value(1)]);
    return { type: 'rect', shape: { x: top[0] - w / 2, y: top[1], width: w, height: bot[1] - top[1] }, style: { fill: color } };
  };
}

const grid = gridTops.map(top => ({ left: GL, top: top, width: GW, height: GH, show: true, borderColor: INK, borderWidth: 1.2, backgroundColor: 'rgba(0,0,0,0)' }));
const xAxis = [], yAxis = [];
for (let i = 0; i < 4; i++) {
  xAxis.push({ type: 'value', gridIndex: i, min: X0, max: X1, interval: XSTEP,
    axisLine: { show: false }, axisTick: { inside: true, length: 5, lineStyle: { color: INK, width: 1 } },
    axisLabel: { fontSize: 14, color: INK, fontFamily: FONT, margin: 7, formatter: v => String(v) },
    splitLine: { show: true, lineStyle: { color: '#e1e1e1', width: 1 } } });
  xAxis.push({ type: 'value', gridIndex: i, position: 'top', min: X0, max: X1, interval: XSTEP,
    axisLine: { show: false }, axisTick: { inside: true, length: 5, lineStyle: { color: INK, width: 1 } },
    axisLabel: { show: false }, splitLine: { show: false } });
  const r = yRanges[i];
  yAxis.push({ type: 'value', gridIndex: i, min: r[0], max: r[1], interval: 5,
    name: yNames[i], nameLocation: 'middle', nameGap: 24, nameMoveOverlap: false,
    nameTextStyle: { fontSize: 15, color: INK, fontFamily: FONT },
    axisLine: { show: false }, axisTick: { inside: true, length: 5, lineStyle: { color: INK, width: 1 } },
    axisLabel: { fontSize: 14, color: INK, fontFamily: FONT, margin: 5, showMaxLabel: r[1] % 5 === 0 },
    splitLine: { show: true, lineStyle: { color: '#e1e1e1', width: 1 } } });
  yAxis.push({ type: 'value', gridIndex: i, position: 'right', min: r[0], max: r[1], interval: 5,
    axisLine: { show: false }, axisTick: { inside: true, length: 5, lineStyle: { color: INK, width: 1 } },
    axisLabel: { show: false }, splitLine: { show: false } });
}
const ax = i => ({ xAxisIndex: 2 * i, yAxisIndex: 2 * i });

const series = [
  // a
  Object.assign({ type: 'line', name: 'Buoy', data: zigzag2(buoyStart, buoyMin, buoyMax, buoyMax2), symbol: 'none', silent: true,
    lineStyle: { color: 'rgba(160,160,160,0.38)', width: 0.7 } }, ax(0)),
  Object.assign({ type: 'line', data: [[thresholdSpan[0], thresholds[0]], [thresholdSpan[1], thresholds[0]]], symbol: 'none',
    lineStyle: { color: '#666666', width: 1.4, type: [6, 4] } }, ax(0)),
  Object.assign({ type: 'line', data: [[thresholdSpan[0], thresholds[1]], [thresholdSpan[1], thresholds[1]]], symbol: 'none',
    lineStyle: { color: '#666666', width: 1.4, type: [6, 4] } }, ax(0)),
  Object.assign({ type: 'line', data: pairs(buoyMaTime, buoyMaValue), symbol: 'none',
    lineStyle: { color: '#3a3a3a', width: 2.4 } }, ax(0)),
  Object.assign({ type: 'scatter', data: pairs(stormTime, stormHeight), symbolSize: d => Math.sqrt(106 * (d[1] - 4.3)),
    itemStyle: { color: '#ff0000', borderColor: '#1a1a1a', borderWidth: 0.8, opacity: 1 }, z: 5 }, ax(0)),
  // b
  Object.assign({ type: 'line', data: zigzag2(waveStart, waveMin, waveMax, waveMax2), symbol: 'none', silent: true,
    lineStyle: { color: 'rgba(125,170,125,0.55)', width: 0.8 } }, ax(1)),
  Object.assign({ type: 'line', data: pairs(waveMaTime, waveMaValue), symbol: 'none',
    lineStyle: { color: '#2c4a2c', width: 2.4 } }, ax(1)),
  // c
  Object.assign({ type: 'custom', data: cores(tideCoreStart, tideCoreLow, tideCoreHigh), renderItem: coreItem('#cc3333'), clip: true }, ax(2)),
  Object.assign({ type: 'custom', data: spikes(tideStart, tideLow, tideHigh, tideLow2, tideHigh2), renderItem: spikeItem('#cc3333', 1.1), clip: true }, ax(2)),
  Object.assign({ type: 'scatter', data: pairs(tideOutlierTime, tideOutlierLevel), symbolSize: 2, itemStyle: { color: '#cc2222' } }, ax(2)),
  Object.assign({ type: 'line', data: zigzag(tideStart, residualLow, residualHigh), symbol: 'none',
    lineStyle: { color: '#111111', width: 0.9 } }, ax(2)),
  // d
  Object.assign({ type: 'custom', data: cores(modelCoreStart, modelCoreLow, modelCoreHigh), renderItem: coreItem('#6666cc'), clip: true }, ax(3)),
  Object.assign({ type: 'custom', data: spikes(modelStart, modelLow, modelHigh, modelLow2, modelHigh2), renderItem: spikeItem('#6666cc', 1.1), clip: true }, ax(3)),
  Object.assign({ type: 'line', data: monthly(modelStart, modelMa), symbol: 'none',
    lineStyle: { color: '#1c1c44', width: 1.4 } }, ax(3))
];

const graphic = [];
panelTitles.forEach((t, i) => {
  graphic.push({ type: 'text', x: GL + GW / 2, y: gridTops[i] - 9, z: 10,
    style: { text: t, font: 'bold 15.5px ' + FONT, fill: '#111', align: 'center', verticalAlign: 'middle', textAlign: 'center', textVerticalAlign: 'middle' } });
  graphic.push({ type: 'text', x: GL + 7, y: gridTops[i] + 5, z: 10,
    style: { text: panelLetters[i], font: '20px ' + FONT, fill: '#111', align: 'left', verticalAlign: 'top' } });
});
// legend c
graphic.push({ type: 'rect', z: 20, shape: { x: 62, y: 507, width: 121, height: 55 }, style: { fill: '#fff', stroke: INK, lineWidth: 1 } });
graphic.push({ type: 'circle', z: 21, shape: { cx: 88, cy: 527, r: 1.1 }, style: { fill: '#cc3333' } });
graphic.push({ type: 'text', z: 21, x: 113, y: 520, style: { text: 'Tide gauge', font: '13px ' + FONT, fill: '#111', verticalAlign: 'middle' } });
graphic.push({ type: 'text', z: 21, x: 113, y: 535, style: { text: '(Port Isaac)', font: '13px ' + FONT, fill: '#111', verticalAlign: 'middle' } });
graphic.push({ type: 'line', z: 21, shape: { x1: 67, y1: 552, x2: 108, y2: 552 }, style: { stroke: '#111', lineWidth: 1 } });
graphic.push({ type: 'text', z: 21, x: 113, y: 552, style: { text: 'Residual', font: '13px ' + FONT, fill: '#111', verticalAlign: 'middle' } });
// legend d
graphic.push({ type: 'rect', z: 20, shape: { x: 463, y: 629, width: 140, height: 33 }, style: { fill: '#fff', stroke: INK, lineWidth: 1 } });
graphic.push({ type: 'line', z: 21, shape: { x1: 466, y1: 639, x2: 507, y2: 639 }, style: { stroke: '#7b7be0', lineWidth: 1 } });
graphic.push({ type: 'text', z: 21, x: 509, y: 639, style: { text: 'Water level model', font: '11.5px ' + FONT, fill: '#111', verticalAlign: 'middle' } });
graphic.push({ type: 'line', z: 21, shape: { x1: 466, y1: 652, x2: 507, y2: 652 }, style: { stroke: '#1c1c44', lineWidth: 1 } });
graphic.push({ type: 'text', z: 21, x: 509, y: 652, style: { text: '12-hr moving avg.', font: '11.5px ' + FONT, fill: '#111', verticalAlign: 'middle' } });

const chart = echarts.init(document.getElementById('c'), null, { renderer: 'canvas' });
chart.setOption({ animation: false, backgroundColor: '#fff', grid, xAxis, yAxis, series, graphic });
</script></body></html>
